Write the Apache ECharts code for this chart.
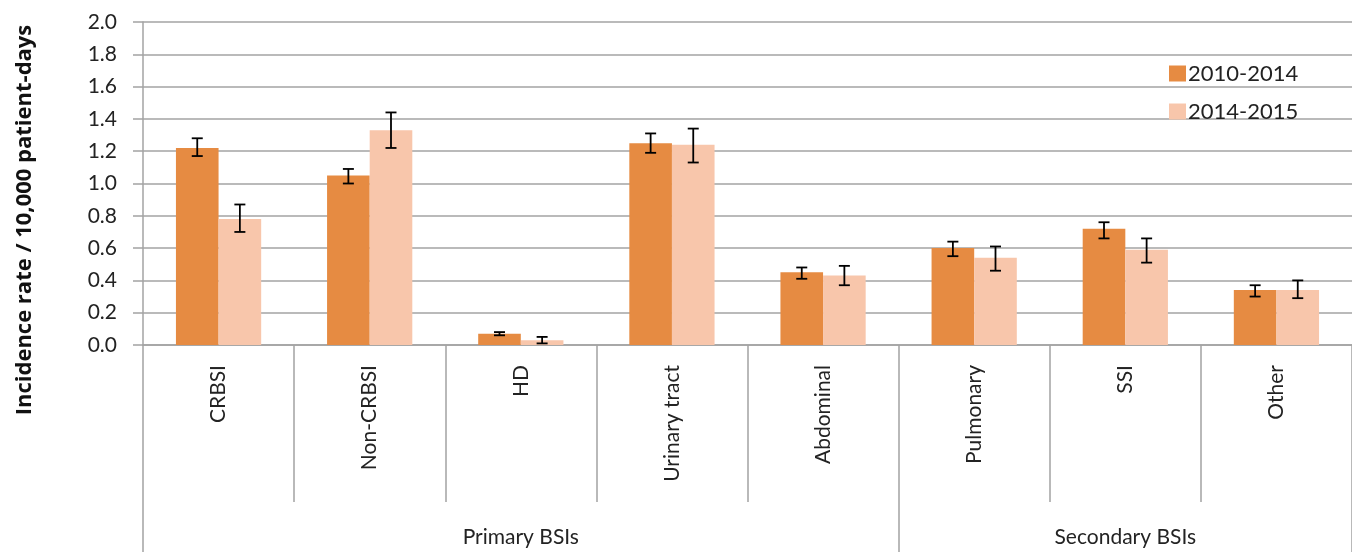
<!DOCTYPE html>
<html>
<head>
<meta charset="utf-8">
<script src="https://cdn.jsdelivr.net/npm/echarts@6/dist/echarts.min.js"></script>
<style>
  html, body { margin: 0; padding: 0; background: #ffffff; }
  #chart { width: 1352px; height: 552px; }
</style>
</head>
<body>
<div id="chart"></div>
<script>
// Bloodstream infection incidence by source, two surveillance periods
const categories = ['CRBSI', 'Non-CRBSI', 'HD', 'Urinary tract', 'Abdominal', 'Pulmonary', 'SSI', 'Other'];
const seriesNames = ['2010-2014', '2014-2015'];

const rate2010 = [1.22, 1.05, 0.07, 1.25, 0.45, 0.60, 0.72, 0.34];
const low2010  = [1.17, 1.00, 0.06, 1.19, 0.41, 0.55, 0.66, 0.30];
const high2010 = [1.28, 1.09, 0.08, 1.31, 0.48, 0.64, 0.76, 0.37];

const rate2014 = [0.78, 1.33, 0.03, 1.24, 0.43, 0.54, 0.59, 0.34];
const low2014  = [0.70, 1.22, 0.01, 1.13, 0.37, 0.46, 0.51, 0.29];
const high2014 = [0.87, 1.44, 0.05, 1.34, 0.49, 0.61, 0.66, 0.40];

// Category groups along the bottom: boundaries (in category units) and names
const groupNames = ['Primary BSIs', 'Secondary BSIs'];
const groupBounds = [0, 5, 8];

const yTicks = [0, 0.2, 0.4, 0.6, 0.8, 1.0, 1.2, 1.4, 1.6, 1.8, 2.0];

const FONT = 'Lato';
const TEXT = '#232323';
const LINE = '#a3a3a3';
const DARK = '#e68b42';
const LIGHT = '#f8c6ab';
const CATEGORY_GAP = 0.436;

const groupCenters = groupNames.map((_, i) => (groupBounds[i] + groupBounds[i + 1]) / 2);

function errorSeries(name, low, high, side) {
  return {
    type: 'custom',
    name: name + ' CI',
    xAxisIndex: 0,
    yAxisIndex: 0,
    z: 10,
    silent: true,
    data: categories.map((_, i) => [i, low[i], high[i]]),
    renderItem: function (params, api) {
      const i = api.value(0);
      const band = api.size([1, 0])[0];
      const barW = band * (1 - CATEGORY_GAP) / 2;
      const lo = api.coord([i, api.value(1)]);
      const hi = api.coord([i, api.value(2)]);
      const x = lo[0] + side * barW / 2;
      const cap = 5.5;
      const style = { stroke: '#000', lineWidth: 1.8, fill: null };
      return {
        type: 'group',
        children: [
          { type: 'line', shape: { x1: x, y1: lo[1], x2: x, y2: hi[1] }, style: style },
          { type: 'line', shape: { x1: x - cap, y1: lo[1], x2: x + cap, y2: lo[1] }, style: style },
          { type: 'line', shape: { x1: x - cap, y1: hi[1], x2: x + cap, y2: hi[1] }, style: style }
        ]
      };
    }
  };
}

const chart = echarts.init(document.getElementById('chart'), null, { renderer: 'canvas' });

chart.setOption({
  animation: false,
  backgroundColor: '#ffffff',
  textStyle: { fontFamily: FONT, color: TEXT },
  grid: { left: 143, right: -10, top: 22, bottom: 207, containLabel: false },
  legend: {
    data: seriesNames,
    orient: 'vertical',
    left: 1164,
    top: 57,
    icon: 'rect',
    itemWidth: 17,
    itemHeight: 16,
    itemGap: 15,
    textStyle: { fontFamily: FONT, fontSize: 22, color: TEXT, lineHeight: 23, padding: [0, 0, 0, -3] }
  },
  xAxis: [
    {
      type: 'category',
      data: categories,
      position: 'bottom',
      axisLine: { show: true, lineStyle: { color: LINE, width: 1.5 } },
      axisTick: { show: true, interval: 0, length: 157, lineStyle: { color: LINE, width: 1.5 } },
      axisLabel: {
        interval: 0,
        rotate: 90,
        margin: 20,
        fontFamily: FONT,
        fontSize: 21,
        color: TEXT
      },
      splitLine: { show: false }
    },
    {
      type: 'value',
      min: groupBounds[0],
      max: groupBounds[groupBounds.length - 1],
      position: 'bottom',
      axisLine: { show: false },
      axisTick: { show: true, customValues: groupBounds, length: 207, lineStyle: { color: LINE, width: 1.5 } },
      axisLabel: {
        customValues: groupCenters,
        margin: 182,
        fontFamily: FONT,
        fontSize: 21,
        color: TEXT,
        formatter: function (v) {
          const idx = groupCenters.indexOf(v);
          return idx >= 0 ? groupNames[idx] : '';
        }
      },
      splitLine: { show: false }
    }
  ],
  yAxis: {
    type: 'value',
    min: yTicks[0],
    max: yTicks[yTicks.length - 1],
    interval: 0.2,
    axisLine: { show: true, lineStyle: { color: LINE, width: 1.5 } },
    axisTick: { show: true, length: 10, lineStyle: { color: LINE, width: 1.5 } },
    axisLabel: {
      margin: 26,
      fontFamily: FONT,
      fontSize: 21,
      color: TEXT,
      formatter: function (v) { return v.toFixed(1); }
    },
    splitLine: { show: true, lineStyle: { color: LINE, width: 1.5 } }
  },
  graphic: [
    {
      type: 'text',
      x: 25,
      y: 220,
      rotation: Math.PI / 2,
      style: {
        text: 'Incidence rate / 10,000 patient-days',
        fontFamily: 'Open Sans',
        fontWeight: 'bold',
        fontSize: 22,
        fill: '#111111',
        align: 'center',
        verticalAlign: 'middle'
      }
    }
  ],
  series: [
    {
      type: 'bar',
      name: seriesNames[0],
      data: rate2010,
      barGap: '0%',
      barCategoryGap: (CATEGORY_GAP * 100) + '%',
      itemStyle: { color: DARK }
    },
    {
      type: 'bar',
      name: seriesNames[1],
      data: rate2014,
      barGap: '0%',
      barCategoryGap: (CATEGORY_GAP * 100) + '%',
      itemStyle: { color: LIGHT }
    },
    errorSeries(seriesNames[0], low2010, high2010, -1),
    errorSeries(seriesNames[1], low2014, high2014, 1)
  ]
});
</script>
</body>
</html>
